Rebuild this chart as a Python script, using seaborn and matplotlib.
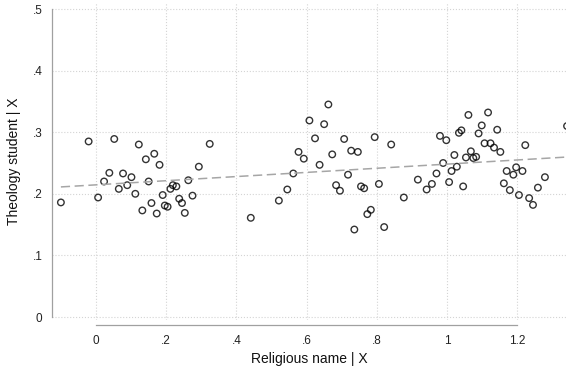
import matplotlib
matplotlib.use('Agg')
import matplotlib.pyplot as plt
import seaborn as sns
import pandas as pd

# Valores (resíduos do added-variable plot)
religious_name = [
    -0.100, -0.021, 0.006, 0.023, 0.038, 0.052, 0.065, 0.077, 0.089, 0.101,
    0.112, 0.122, 0.132, 0.142, 0.150, 0.158, 0.166, 0.173, 0.181, 0.190,
    0.196, 0.204, 0.212, 0.219, 0.229, 0.237, 0.245, 0.253, 0.263, 0.275,
    0.293, 0.324,
    0.441, 0.521, 0.545, 0.562, 0.577, 0.592, 0.608, 0.624, 0.637, 0.650,
    0.662, 0.673, 0.684, 0.695, 0.707, 0.718, 0.727, 0.736, 0.746, 0.755,
    0.764, 0.773, 0.783, 0.794, 0.806, 0.821, 0.841, 0.877,
    0.917, 0.942, 0.957, 0.970, 0.980, 0.989, 0.998, 1.006, 1.013, 1.021,
    1.028, 1.034, 1.041, 1.046, 1.054, 1.061, 1.068, 1.075, 1.083, 1.090,
    1.099, 1.107, 1.117, 1.124, 1.134, 1.143, 1.152, 1.162, 1.170, 1.179,
    1.189, 1.197, 1.205, 1.215, 1.223, 1.234, 1.245, 1.259, 1.279, 1.342,
]
theology_student = [
    0.186, 0.285, 0.194, 0.220, 0.234, 0.289, 0.208, 0.233, 0.214, 0.227,
    0.200, 0.280, 0.173, 0.256, 0.220, 0.185, 0.265, 0.168, 0.247, 0.198,
    0.181, 0.179, 0.208, 0.214, 0.212, 0.192, 0.185, 0.169, 0.222, 0.197,
    0.244, 0.281,
    0.161, 0.189, 0.207, 0.233, 0.268, 0.257, 0.319, 0.290, 0.247, 0.313,
    0.345, 0.264, 0.214, 0.205, 0.289, 0.231, 0.270, 0.142, 0.268, 0.212,
    0.209, 0.167, 0.174, 0.292, 0.216, 0.146, 0.280, 0.194,
    0.223, 0.207, 0.216, 0.233, 0.294, 0.250, 0.287, 0.219, 0.237, 0.263,
    0.244, 0.299, 0.303, 0.212, 0.259, 0.328, 0.269, 0.258, 0.260, 0.298,
    0.311, 0.282, 0.332, 0.282, 0.275, 0.304, 0.268, 0.217, 0.237, 0.206,
    0.231, 0.243, 0.198, 0.237, 0.279, 0.193, 0.182, 0.210, 0.227, 0.310,
]
x_ticks = [0, 0.2, 0.4, 0.6, 0.8, 1.0, 1.2]
x_tick_labels = ['0', '.2', '.4', '.6', '.8', '1', '1.2']
y_ticks = [0, 0.1, 0.2, 0.3, 0.4, 0.5]
y_tick_labels = ['0', '.1', '.2', '.3', '.4', '.5']

df = pd.DataFrame({'x': religious_name, 'y': theology_student})

sns.set_style('white')
plt.rcParams['font.family'] = ['Liberation Sans', 'DejaVu Sans']

fig = plt.figure(figsize=(5.66, 3.72), dpi=100)
ax = fig.add_axes([52 / 566, 1 - 320 / 372, 514 / 566, 317 / 372])

sns.regplot(data=df, x='x', y='y', ax=ax, ci=None, truncate=True,
            scatter_kws=dict(s=22, facecolors='none', edgecolors='black',
                             linewidths=1.0),
            line_kws=dict(color='#a6a6a6', lw=1.1, ls=(0, (6, 3))))

# Limites e grades
ax.set_xlim((52 - 96) / 351, (566 - 96) / 351)
ax.set_ylim(-3 / 616, 0.5 + 6 / 616)
ax.set_xticks(x_ticks, x_tick_labels)
ax.set_yticks(y_ticks, y_tick_labels)
ax.grid(True, color='#d4d4d4', ls=':', lw=0.8)
ax.set_axisbelow(True)

# Eixos ao estilo Stata
for s in ['top', 'right']:
    ax.spines[s].set_visible(False)
ax.spines['left'].set_bounds(0, 0.5)
ax.spines['bottom'].set_bounds(0, 1.2)
ax.spines['bottom'].set_position(('outward', 3.6))
for s in ['left', 'bottom']:
    ax.spines[s].set_color('#a0a0a0')
    ax.spines[s].set_linewidth(0.9)
ax.tick_params(axis='both', length=4, width=0.9, color='#a0a0a0',
               labelsize=8.5, labelcolor='#222222', pad=3)

ax.set_xlabel('Religious name | X', fontsize=10, color='#111111', labelpad=4)
ax.set_ylabel('Theology student | X', fontsize=10, color='#111111', labelpad=8)

fig.savefig('out.png', dpi=100)
